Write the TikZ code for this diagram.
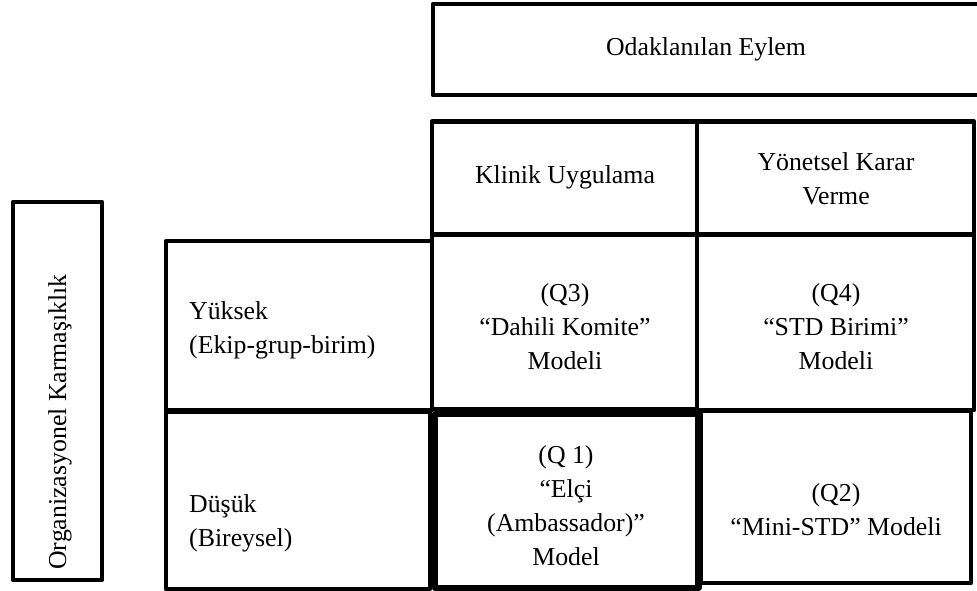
\documentclass[tikz,border=0pt]{standalone}
\usepackage{fontspec}
\setmainfont{Liberation Serif}
\begin{document}
\begin{tikzpicture}[x=1pt,y=-1pt,
  frame/.style={draw=black,line width=4.6pt,line join=round,inner sep=0pt},
  boldframe/.style={frame,line width=6.4pt},
  txt/.style={font=\fontsize{25.8}{34}\selectfont,inner sep=0pt,align=center},
  txtl/.style={txt,align=left,anchor=west}]
\useasboundingbox (0,0) rectangle (977,591);
% helper: a cell drawn as a rectangle node between two corners
\newcommand{\cellbox}[6][frame]{%
  \node[#1,minimum width={#4-#2},minimum height={#5-#3}] (#6) at ({(#2+#4)/2},{(#3+#5)/2}) {};}
% column title
\cellbox{433}{4}{986}{95}{focus}
\node[txt] (focustxt) at (706,49) {Odaklanılan Eylem};
% header row
\cellbox{432}{121.5}{697}{234.5}{clin}
\cellbox{697}{121.5}{974}{234.5}{mgmt}
\node[txt] (clintxt) at (565,177) {Klinik Uygulama};
\node[txt] (mgmttxt) at (836,179) {Yönetsel Karar\\Verme};
% row titles
\cellbox{13}{202}{102}{580}{axis}
\node[txt,rotate=90] (axistxt) at (60,422) {Organizasyonel Karmaşıklık};
\cellbox{166}{241}{432}{410}{high}
\cellbox{166}{412}{430}{589}{low}
\node[txtl] (hightxt) at (189,330) {Yüksek\\(Ekip-grup-birim)};
\node[txtl] (lowtxt) at (189,523) {Düşük\\(Bireysel)};
% quadrants
\cellbox{432}{234.5}{697}{409}{q3}
\cellbox{697}{234.5}{974}{410}{q4}
\cellbox{701}{411}{971}{583}{q2}
\cellbox[boldframe]{435}{414}{698.5}{588}{q1}
\node[txt] (q3txt) at (565,327) {(Q3)\\“Dahili Komite”\\Modeli};
\node[txt] (q4txt) at (836,327) {(Q4)\\“STD Birimi”\\Modeli};
\node[txt] (q1txt) at (566,506) {(Q 1)\\“Elçi\\(Ambassador)”\\Model};
\node[txt] (q2txt) at (836,510) {(Q2)\\“Mini-STD” Modeli};
\end{tikzpicture}
\end{document}
